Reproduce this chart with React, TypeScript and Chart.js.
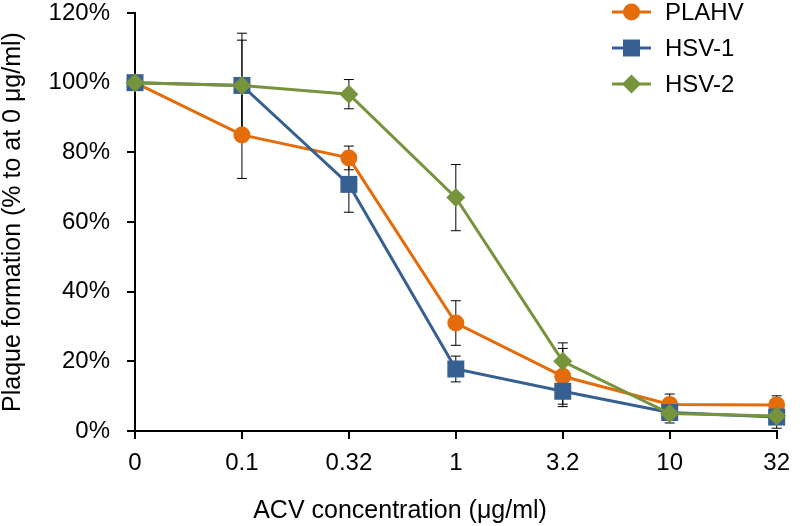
import React, { useEffect, useRef } from "react";
import { Chart, registerables } from "chart.js";

Chart.register(...registerables);

const categories = ["0", "0.1", "0.32", "1", "3.2", "10", "32"];
const seriesNames = ["PLAHV", "HSV-1", "HSV-2"];
const plahv = [100, 85, 78.4, 31, 15.7, 7.6, 7.5];
const plahvErr = [0, 12.5, 3.4, 6.4, 8, 3, 2.6];
const hsv1 = [100, 99.2, 70.8, 17.8, 11.4, 5.3, 4.0];
const hsv1Err = [0, 15, 8, 3.7, 4.4, 3, 3.2];
const hsv2 = [100, 99.2, 96.7, 67, 20, 5, 4.3];
const hsv2Err = [0, 13, 4.2, 9.5, 5.3, 2, 1.5];
const yTicks = [0, 20, 40, 60, 80, 100, 120];
const xTitle = "ACV concentration (μg/ml)";
const yTitle = "Plaque formation (% to at 0 μg/ml)";

const colors = ["#E46C0A", "#376092", "#77933C"];
const styles = ["circle", "rect", "rectRot"];
const radii = [8.5, 12, 9.5];
const FONT = '"Liberation Sans", Arial, sans-serif';

function drawMarker(ctx: CanvasRenderingContext2D, style: string, x: number, y: number, r: number, color: string) {
  ctx.save();
  ctx.fillStyle = color;
  ctx.beginPath();
  if (style === "circle") {
    ctx.arc(x, y, r, 0, Math.PI * 2);
  } else if (style === "rect") {
    const s = r * Math.SQRT1_2;
    ctx.rect(x - s, y - s, 2 * s, 2 * s);
  } else {
    ctx.moveTo(x, y - r);
    ctx.lineTo(x + r, y);
    ctx.lineTo(x, y + r);
    ctx.lineTo(x - r, y);
    ctx.closePath();
  }
  ctx.fill();
  ctx.restore();
}

export default function App() {
  const ref = useRef<HTMLCanvasElement | null>(null);
  useEffect(() => {
    if (!ref.current) return;
    const values = [plahv, hsv1, hsv2];
    const errors = [plahvErr, hsv1Err, hsv2Err];

    const extras = {
      id: "extras",
      beforeDatasetsDraw(chart: any) {
        const ctx = chart.ctx;
        const ys = chart.scales.y;
        ctx.save();
        ctx.strokeStyle = "#000";
        ctx.lineWidth = 1;
        values.forEach((vals, d) => {
          const meta = chart.getDatasetMeta(d);
          vals.forEach((v, i) => {
            const e = errors[d][i];
            if (!e) return;
            const x = meta.data[i].x;
            const y1 = ys.getPixelForValue(v + e);
            const y2 = ys.getPixelForValue(v - e);
            ctx.beginPath();
            ctx.moveTo(x, y1);
            ctx.lineTo(x, y2);
            ctx.moveTo(x - 5, y1);
            ctx.lineTo(x + 5, y1);
            ctx.moveTo(x - 5, y2);
            ctx.lineTo(x + 5, y2);
            ctx.stroke();
          });
        });
        ctx.restore();
      },
      afterDraw(chart: any) {
        const ctx = chart.ctx;
        const area = chart.chartArea;
        ctx.save();
        ctx.fillStyle = "#000";
        ctx.font = `25px ${FONT}`;
        ctx.textAlign = "center";
        ctx.textBaseline = "middle";
        ctx.fillText(xTitle, 400, 511);
        ctx.translate(13, (area.top + area.bottom) / 2);
        ctx.rotate(-Math.PI / 2);
        ctx.fillText(yTitle, 0, 0);
        ctx.restore();

        // legend
        ctx.save();
        const legendY = [12, 48, 84];
        seriesNames.forEach((name, d) => {
          const y = legendY[d];
          ctx.strokeStyle = colors[d];
          ctx.lineWidth = 3;
          ctx.beginPath();
          ctx.moveTo(612, y);
          ctx.lineTo(651, y);
          ctx.stroke();
          drawMarker(ctx, styles[d], 631.5, y, radii[d], colors[d]);
          ctx.fillStyle = "#000";
          ctx.font = `24px ${FONT}`;
          ctx.textAlign = "left";
          ctx.textBaseline = "middle";
          ctx.fillText(name, 665, y + 1);
        });
        ctx.restore();
      },
    };

    const chart = new Chart(ref.current, {
      type: "line",
      data: {
        labels: categories,
        datasets: values.map((vals, d) => ({
          label: seriesNames[d],
          data: vals,
          borderColor: colors[d],
          backgroundColor: colors[d],
          borderWidth: 3,
          pointStyle: styles[d] as any,
          pointRadius: radii[d],
          pointHoverRadius: radii[d],
          pointBorderWidth: 0,
          pointBackgroundColor: colors[d],
          pointBorderColor: colors[d],
          tension: 0,
          clip: false as any,
          order: 2 - d,
        })),
      },
      options: {
        animation: false,
        responsive: false,
        layout: { autoPadding: false, padding: { top: 13, right: 15, bottom: 0, left: 0 } },
        plugins: {
          legend: { display: false },
          tooltip: { enabled: false },
          title: { display: false },
        },
        scales: {
          x: {
            type: "category",
            offset: false,
            border: { color: "#000", width: 2 },
            grid: { drawOnChartArea: false, drawTicks: true, tickLength: 8, color: "#000", lineWidth: 2 },
            ticks: { color: "#000", font: { family: FONT, size: 24 }, padding: 10, maxRotation: 0, autoSkip: false },
            afterFit(scale: any) {
              scale.height = 95;
            },
          },
          y: {
            min: 0,
            max: 120,
            border: { color: "#000", width: 2 },
            grid: { drawOnChartArea: false, drawTicks: true, tickLength: 8, color: "#000", lineWidth: 2 },
            afterBuildTicks(scale: any) {
              scale.ticks = yTicks.map((v) => ({ value: v }));
            },
            ticks: {
              color: "#000",
              font: { family: FONT, size: 24, lineHeight: 1 },
              padding: 17,
              callback: (v: any) => `${v}%`,
            },
            afterFit(scale: any) {
              scale.width = 135;
              scale.paddingTop = 0;
              scale.paddingBottom = 0;
            },
          },
        },
      },
      plugins: [extras],
    });
    return () => chart.destroy();
  }, []);

  return (
    <div style={{ position: "fixed", left: 0, top: 0, width: 800, height: 526, background: "#fff" }}>
      <canvas ref={ref} width={800} height={526} style={{ display: "block" }} />
    </div>
  );
}
